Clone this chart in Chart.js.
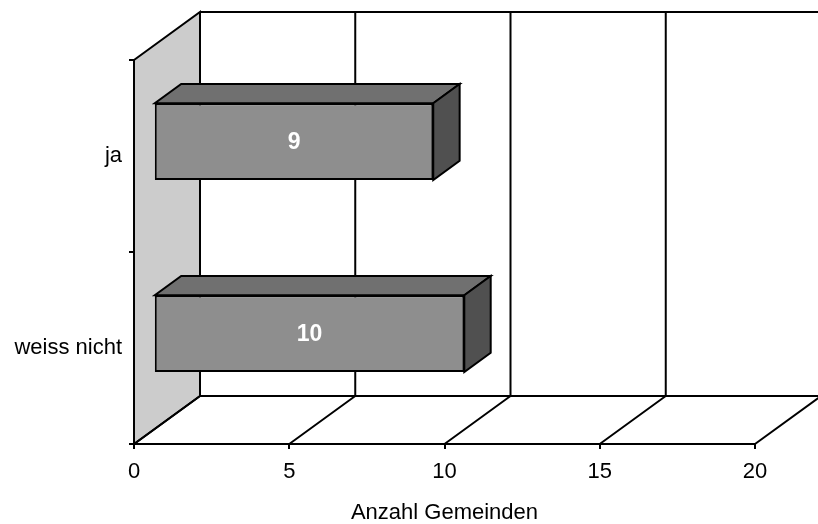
<!DOCTYPE html>
<html>
<head>
<meta charset="utf-8">
<script src="https://cdn.jsdelivr.net/npm/chart.js@4/dist/chart.umd.min.js"></script>
<style>
  html, body { margin: 0; padding: 0; background: #ffffff; }
  #wrap { width: 818px; height: 524px; }
</style>
</head>
<body>
<div id="wrap"><canvas id="c" width="818" height="524"></canvas></div>
<script>
// ---- data ----
const categories = ['ja', 'weiss nicht'];
const values = [9, 10];
const xTickValues = [0, 5, 10, 15, 20];
const axisTitle = 'Anzahl Gemeinden';

// ---- style constants ----
const DEPTH_X = 66, DEPTH_Y = -48;        // full depth of the 3D box
const BAR_FRONT = 0.30, BAR_BACK = 0.70;  // bar depth fractions
const LINE_W = 2;
const FONT = 'Liberation Sans, Arial, sans-serif';

const threeD = {
  id: 'threeD',
  beforeDatasetsDraw(chart) {
    const ctx = chart.ctx;
    const xs = chart.scales.x;
    const area = chart.chartArea;
    const x0 = xs.getPixelForValue(xs.min);
    const x1 = xs.getPixelForValue(xs.max);
    const top = area.top, bottom = area.bottom;
    ctx.save();
    ctx.lineWidth = LINE_W;
    ctx.strokeStyle = '#000';
    ctx.lineJoin = 'miter';
    // left wall
    ctx.beginPath();
    ctx.moveTo(x0, top);
    ctx.lineTo(x0 + DEPTH_X, top + DEPTH_Y);
    ctx.lineTo(x0 + DEPTH_X, bottom + DEPTH_Y);
    ctx.lineTo(x0, bottom);
    ctx.closePath();
    ctx.fillStyle = '#cccccc';
    ctx.fill();
    ctx.stroke();
    // back wall top edge & floor back edge
    ctx.beginPath();
    ctx.moveTo(x0 + DEPTH_X, top + DEPTH_Y);
    ctx.lineTo(x1 + DEPTH_X, top + DEPTH_Y);
    ctx.moveTo(x0 + DEPTH_X, bottom + DEPTH_Y);
    ctx.lineTo(x1 + DEPTH_X, bottom + DEPTH_Y);
    ctx.stroke();
    // back-wall verticals and floor diagonals
    ctx.beginPath();
    xTickValues.forEach(v => {
      const px = xs.getPixelForValue(v);
      ctx.moveTo(px + DEPTH_X, top + DEPTH_Y);
      ctx.lineTo(px + DEPTH_X, bottom + DEPTH_Y);
      ctx.moveTo(px, bottom);
      ctx.lineTo(px + DEPTH_X, bottom + DEPTH_Y);
    });
    ctx.stroke();
    ctx.restore();
    // shift front faces of bars to their depth
    ctx.save();
    ctx.translate(DEPTH_X * BAR_FRONT, DEPTH_Y * BAR_FRONT);
  },
  afterDatasetsDraw(chart) {
    const ctx = chart.ctx;
    ctx.restore();
    const fx = DEPTH_X * BAR_FRONT, fy = DEPTH_Y * BAR_FRONT;
    const bx = DEPTH_X * BAR_BACK, by = DEPTH_Y * BAR_BACK;
    const meta = chart.getDatasetMeta(0);
    ctx.save();
    ctx.lineWidth = LINE_W;
    ctx.strokeStyle = '#000';
    ctx.lineJoin = 'miter';
    meta.data.forEach((bar, i) => {
      const p = bar.getProps(['x', 'y', 'base', 'height'], true);
      const t = p.y - p.height / 2, b = p.y + p.height / 2;
      // top face
      ctx.beginPath();
      ctx.moveTo(p.base + fx, t + fy);
      ctx.lineTo(p.x + fx, t + fy);
      ctx.lineTo(p.x + bx, t + by);
      ctx.lineTo(p.base + bx, t + by);
      ctx.closePath();
      ctx.fillStyle = '#707070';
      ctx.fill();
      ctx.stroke();
      // right face
      ctx.beginPath();
      ctx.moveTo(p.x + fx, t + fy);
      ctx.lineTo(p.x + bx, t + by);
      ctx.lineTo(p.x + bx, b + by);
      ctx.lineTo(p.x + fx, b + fy);
      ctx.closePath();
      ctx.fillStyle = '#505050';
      ctx.fill();
      ctx.stroke();
      // value label
      ctx.fillStyle = '#ffffff';
      ctx.font = 'bold 23px ' + FONT;
      ctx.textAlign = 'center';
      ctx.textBaseline = 'middle';
      ctx.fillText(String(values[i]), (p.base + p.x) / 2 + fx, p.y + fy + 1);
    });
    ctx.restore();
  }
};

new Chart(document.getElementById('c'), {
  type: 'bar',
  data: {
    labels: categories,
    datasets: [{
      data: values,
      backgroundColor: '#8e8e8e',
      borderColor: '#000000',
      borderWidth: LINE_W,
      borderSkipped: false,
      categoryPercentage: 1.0,
      barPercentage: 0.4,
      clip: false
    }]
  },
  options: {
    indexAxis: 'y',
    responsive: false,
    animation: false,
    events: [],
    layout: { padding: { top: 60, right: 63, left: 0, bottom: 0 } },
    plugins: { legend: { display: false }, tooltip: { enabled: false } },
    scales: {
      x: {
        type: 'linear',
        min: 0, max: 20,
        afterFit(scale) { scale.height = 80; },
        afterBuildTicks(scale) { scale.ticks = xTickValues.map(v => ({ value: v })); },
        grid: { drawOnChartArea: false, drawTicks: true, tickLength: 5, color: '#000', lineWidth: LINE_W },
        border: { display: true, color: '#000', width: LINE_W },
        ticks: { color: '#000', font: { family: FONT, size: 22 }, padding: 10, maxRotation: 0 },
        title: { display: true, text: axisTitle, color: '#000', font: { family: FONT, size: 22 }, padding: { top: 0, bottom: -2 } }
      },
      y: {
        type: 'category',
        afterFit(scale) { scale.width = 134; },
        grid: { offset: true, drawOnChartArea: false, drawTicks: true, tickLength: 5, color: '#000', lineWidth: LINE_W },
        border: { display: true, color: '#000', width: LINE_W },
        ticks: { color: '#000', font: { family: FONT, size: 22 }, padding: 7 }
      }
    }
  },
  plugins: [threeD]
});
</script>
</body>
</html>
